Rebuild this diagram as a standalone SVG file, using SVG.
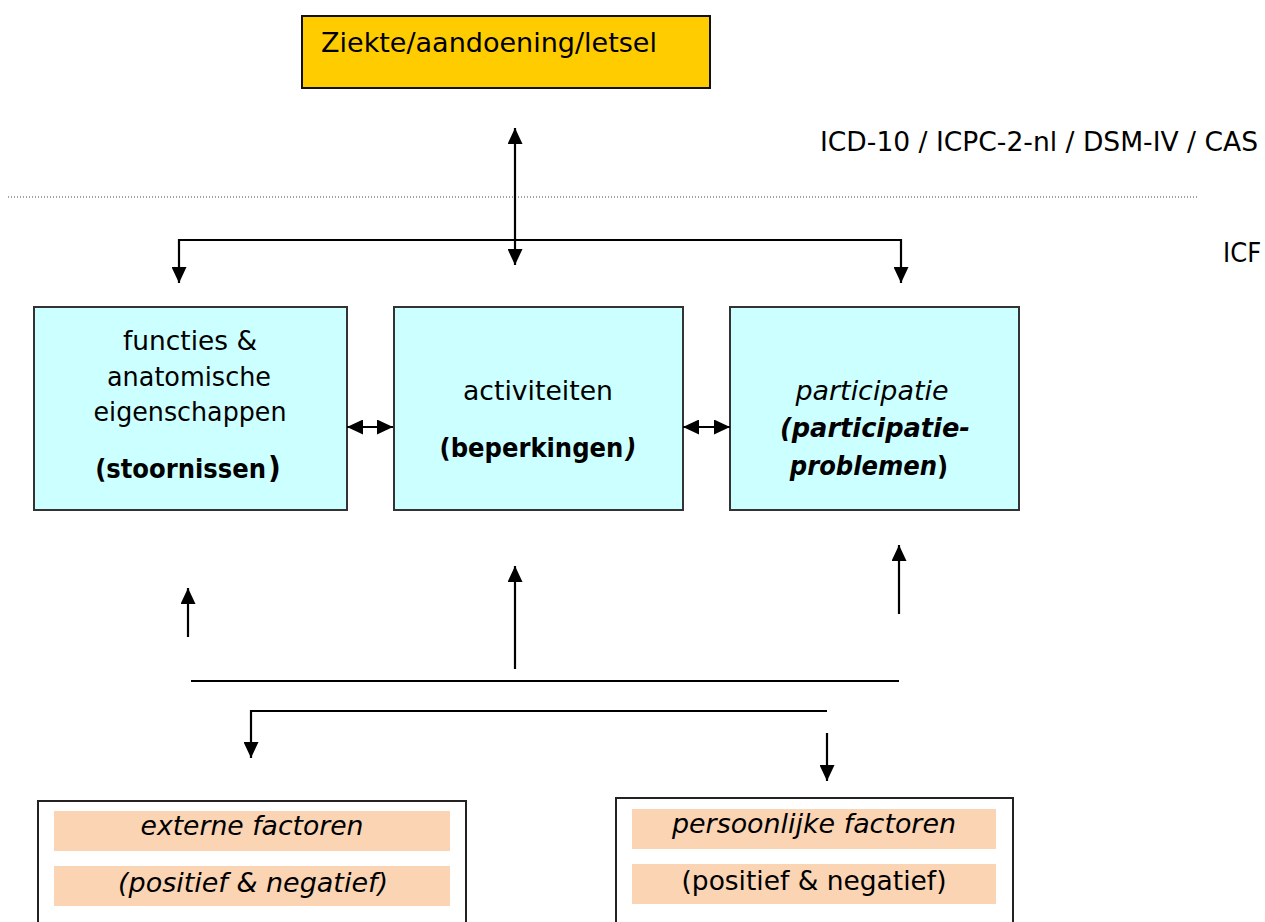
<svg xmlns="http://www.w3.org/2000/svg" width="1265" height="922" viewBox="0 0 1265 922">
  <style>
    text { font-family: "DejaVu Sans Condensed", "DejaVu Sans", sans-serif; fill: #000; }
    .lbl { font-size: 27px; }
    .b { font-weight: bold; }
    .i { font-style: italic; }
    .box { fill: #CCFFFF; stroke: #333; stroke-width: 2; }
    .frame { fill: #FFFFFF; stroke: #222; stroke-width: 2; }
    .bar { fill: #FBD4B4; }
    .wire { fill: none; stroke: #000; stroke-width: 2.2; }
    .arr { marker-end: url(#ah); }
    .arr2 { marker-start: url(#ah); marker-end: url(#ah); }
    .arrS { marker-start: url(#ah); }
  </style>
  <defs>
    <marker id="ah" viewBox="0 0 16 15" refX="16" refY="7.5" markerWidth="16" markerHeight="15"
            markerUnits="userSpaceOnUse" orient="auto-start-reverse">
      <path d="M0,0 L16,7.5 L0,15 z" fill="#000"/>
    </marker>
  </defs>
  <rect width="1265" height="922" fill="#FFFFFF"/>

  <!-- classification labels and separator -->
  <g id="classification-labels">
    <text class="lbl" x="820" y="151" textLength="438" lengthAdjust="spacingAndGlyphs">ICD-10 / ICPC-2-nl / DSM-IV / CAS</text>
    <text class="lbl" x="1223" y="262">ICF</text>
    <line x1="8" y1="197" x2="1197" y2="197" stroke="#444" stroke-width="1" stroke-dasharray="1 2"/>
  </g>

  <g id="node-ziekte">
    <rect x="302" y="16" width="408" height="72" fill="#FFCC00" stroke="#111" stroke-width="2"/>
    <text class="lbl" x="321" y="52" textLength="336" lengthAdjust="spacingAndGlyphs">Ziekte/aandoening/letsel</text>
  </g>

  <g id="node-functies">
    <rect class="box" x="34" y="307" width="313" height="203"/>
    <text class="lbl" x="190" y="350" text-anchor="middle" textLength="134" lengthAdjust="spacingAndGlyphs">functies &amp;</text>
    <text class="lbl" x="189" y="386" text-anchor="middle" textLength="164" lengthAdjust="spacingAndGlyphs">anatomische</text>
    <text class="lbl" x="190" y="421" text-anchor="middle" textLength="193" lengthAdjust="spacingAndGlyphs">eigenschappen</text>
    <text class="lbl b" x="188" y="478" text-anchor="middle">(stoornissen<tspan dx="2" font-size="31px">)</tspan></text>
  </g>

  <g id="node-activiteiten">
    <rect class="box" x="394" y="307" width="289" height="203"/>
    <text class="lbl" x="538" y="400" text-anchor="middle" textLength="150" lengthAdjust="spacingAndGlyphs">activiteiten</text>
    <text class="lbl b" x="538" y="457" text-anchor="middle">(beperkingen<tspan class="i" dx="2">)</tspan></text>
  </g>

  <g id="node-participatie">
    <rect class="box" x="730" y="307" width="289" height="203"/>
    <text class="lbl i" x="872" y="400" text-anchor="middle" textLength="153" lengthAdjust="spacingAndGlyphs">participatie</text>
    <text class="lbl b i" x="875" y="437" text-anchor="middle" textLength="190" lengthAdjust="spacingAndGlyphs">(participatie-</text>
    <text class="lbl b" x="869" y="475" text-anchor="middle"><tspan class="i">problemen</tspan>)</text>
  </g>

  <g id="node-externe-factoren">
    <rect class="frame" x="38" y="801" width="428" height="140"/>
    <rect class="bar" x="54" y="811" width="396" height="40"/>
    <rect class="bar" x="54" y="866" width="396" height="40"/>
    <text class="lbl i" x="252" y="835" text-anchor="middle" textLength="223" lengthAdjust="spacingAndGlyphs">externe factoren</text>
    <text class="lbl i" x="253" y="892" text-anchor="middle" textLength="270" lengthAdjust="spacingAndGlyphs">(positief &amp; negatief)</text>
  </g>

  <g id="node-persoonlijke-factoren">
    <rect class="frame" x="616" y="798" width="397" height="140"/>
    <rect class="bar" x="632" y="809" width="364" height="40"/>
    <rect class="bar" x="632" y="864" width="364" height="40"/>
    <text class="lbl i" x="814" y="833" text-anchor="middle" textLength="284" lengthAdjust="spacingAndGlyphs">persoonlijke factoren</text>
    <text class="lbl" x="814" y="890" text-anchor="middle" textLength="265" lengthAdjust="spacingAndGlyphs">(positief &amp; negatief)</text>
  </g>

  <g id="connectors">
    <line class="wire arr2" x1="515" y1="128" x2="515" y2="265"/>
    <path class="wire arr2" d="M179,283 V240 H901 V283"/>
    <line class="wire arr2" x1="347" y1="427" x2="393" y2="427"/>
    <line class="wire arr2" x1="683" y1="427" x2="730" y2="427"/>
    <line class="wire arr" x1="188" y1="637" x2="188" y2="588"/>
    <line class="wire arr" x1="515" y1="669" x2="515" y2="566"/>
    <line class="wire arr" x1="899" y1="614" x2="899" y2="545"/>
    <line class="wire" x1="191" y1="681" x2="899" y2="681"/>
    <path class="wire arrS" d="M251,758 V711 H827"/>
    <line class="wire arr" x1="827" y1="733" x2="827" y2="781"/>
  </g>
</svg>
